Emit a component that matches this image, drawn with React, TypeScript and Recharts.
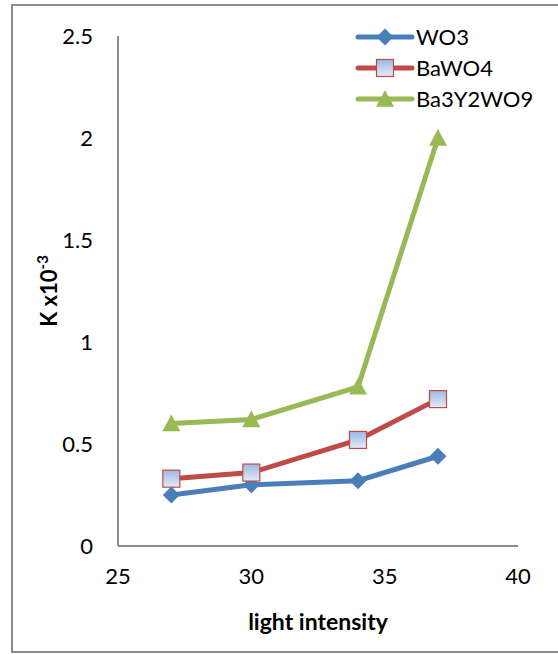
import React from 'react';
import { LineChart, Line, XAxis, YAxis, Legend, Label } from 'recharts';

const lightIntensity = [27, 30, 34, 37];
const wo3 = [0.25, 0.3, 0.32, 0.44];
const bawo4 = [0.33, 0.36, 0.52, 0.72];
const ba3y2wo9 = [0.6, 0.62, 0.78, 2.0];
const xTicks = [25, 30, 35, 40];
const yTicks = [0, 0.5, 1, 1.5, 2, 2.5];

const data = lightIntensity.map((x, i) => ({
  x,
  WO3: wo3[i],
  BaWO4: bawo4[i],
  Ba3Y2WO9: ba3y2wo9[i],
}));

const FONT = 'Lato, "Open Sans", sans-serif';
const BLUE = '#4a7ebb';
const RED = '#be4b48';
const GREEN = '#98b954';

const Diamond = ({ cx, cy }: any) => {
  if (cx == null || cy == null) return null;
  const r = 8.5;
  return <path d={`M${cx},${cy - r}L${cx + r},${cy}L${cx},${cy + r}L${cx - r},${cy}Z`} fill={BLUE} />;
};

const Square = ({ cx, cy }: any) => {
  if (cx == null || cy == null) return null;
  const s = 8.5;
  return (
    <rect x={cx - s} y={cy - s} width={s * 2} height={s * 2} fill="url(#sqGrad)" stroke={RED} strokeWidth={1.2} />
  );
};

const Triangle = ({ cx, cy }: any) => {
  if (cx == null || cy == null) return null;
  const r = 9;
  return <path d={`M${cx},${cy - r}L${cx + r},${cy + r * 0.85}L${cx - r},${cy + r * 0.85}Z`} fill={GREEN} />;
};

const legendItems = [
  { name: 'WO3', color: BLUE, Marker: Diamond },
  { name: 'BaWO4', color: RED, Marker: Square },
  { name: 'Ba3Y2WO9', color: GREEN, Marker: Triangle },
];

// legend drawn as one small svg, rows ~31px apart
const CustomLegend = () => (
  <svg width={200} height={110} style={{ overflow: 'visible' }}>
    {legendItems.map((it, i) => {
      const y = 22 + i * 31;
      return (
        <g key={it.name}>
          <line x1={4} x2={58} y1={y} y2={y} stroke={it.color} strokeWidth={5} strokeLinecap="round" />
          <it.Marker cx={31} cy={y} />
          <text x={62} y={y} dy="0.36em" fontSize={22} fontFamily={FONT} fill="#000">
            {it.name}
          </text>
        </g>
      );
    })}
  </svg>
);

export default function App() {
  return (
    <div style={{ position: 'absolute', left: 0, top: 0, width: 558, height: 654, background: '#fff', overflow: 'hidden' }}>
      <div
        style={{
          position: 'absolute',
          left: 11,
          top: 4,
          width: 600,
          height: 649,
          border: '2px solid #8c8c8c',
          boxSizing: 'border-box',
        }}
      />
      <div style={{ position: 'absolute', left: 0, top: 0 }}>
        <LineChart width={558} height={654} data={data} margin={{ top: 36, right: 40, left: 58, bottom: 24 }}>
          <defs>
            <linearGradient id="sqGrad" x1="0" y1="0" x2="0" y2="1">
              <stop offset="0%" stopColor="#9db8e3" />
              <stop offset="100%" stopColor="#e3ebf7" />
            </linearGradient>
          </defs>
          <XAxis
            dataKey="x"
            type="number"
            domain={[25, 40]}
            ticks={xTicks}
            tickLine={false}
            axisLine={{ stroke: '#8c8c8c', strokeWidth: 2 }}
            tick={{ fontSize: 22, fontFamily: FONT, fill: '#000' }}
            tickMargin={16}
            height={84}
          >
            <Label
              value="light intensity"
              position="insideBottom"
              offset={0}
              style={{ fontSize: 23, fontWeight: 700, fontFamily: FONT, fill: '#000' }}
            />
          </XAxis>
          <YAxis
            type="number"
            domain={[0, 2.5]}
            ticks={yTicks}
            tickLine={false}
            axisLine={{ stroke: '#8c8c8c', strokeWidth: 2 }}
            tick={{ fontSize: 22, fontFamily: FONT, fill: '#000' }}
            tickMargin={19}
            width={60}
          >
            <Label
              content={({ viewBox }: any) => {
                const cx = viewBox.x - 1;
                const cy = viewBox.y + viewBox.height / 2;
                return (
                  <text
                    transform={`translate(${cx},${cy}) rotate(-90)`}
                    textAnchor="middle"
                    fontSize={22}
                    fontWeight={700}
                    fontFamily={FONT}
                    fill="#000"
                  >
                    K x10<tspan dy={-9} fontSize={15}>-3</tspan>
                  </text>
                );
              }}
            />
          </YAxis>
          <Legend
            layout="vertical"
            verticalAlign="middle"
            align="center"
            content={<CustomLegend />}
            wrapperStyle={{ left: 354, top: 15, width: 200 }}
          />
          <Line dataKey="WO3" stroke={BLUE} strokeWidth={5} dot={<Diamond />} isAnimationActive={false} />
          <Line dataKey="BaWO4" stroke={RED} strokeWidth={5} dot={<Square />} isAnimationActive={false} />
          <Line dataKey="Ba3Y2WO9" stroke={GREEN} strokeWidth={5} dot={<Triangle />} isAnimationActive={false} />
        </LineChart>
      </div>
    </div>
  );
}
